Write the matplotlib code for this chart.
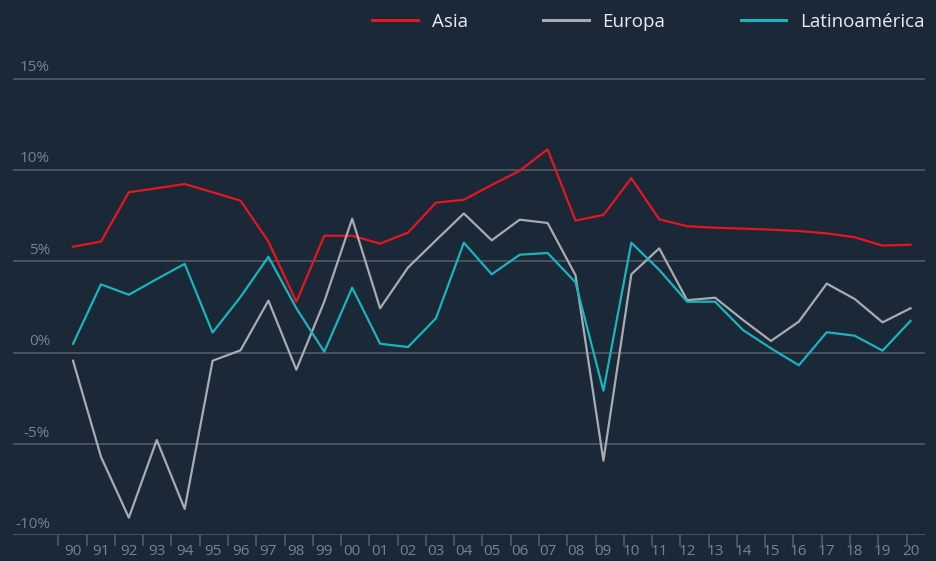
import numpy as np
import matplotlib.pyplot as plt
from matplotlib.transforms import ScaledTranslation

# Años (eje x) y crecimiento anual en %
years = ["90", "91", "92", "93", "94", "95", "96", "97", "98", "99",
         "00", "01", "02", "03", "04", "05", "06", "07", "08", "09",
         "10", "11", "12", "13", "14", "15", "16", "17", "18", "19", "20"]

asia = [5.80, 6.08, 8.78, 9.00, 9.23, 8.78, 8.32, 6.08, 2.78, 6.40,
        6.40, 5.97, 6.57, 8.21, 8.37, 9.18, 9.96, 11.13, 7.23, 7.54,
        9.55, 7.30, 6.92, 6.84, 6.79, 6.73, 6.66, 6.53, 6.32, 5.86, 5.91]

europa = [-0.44, -5.69, -9.03, -4.78, -8.55, -0.44, 0.13, 2.85, -0.93, 2.79,
          7.33, 2.43, 4.66, 6.15, 7.62, 6.15, 7.28, 7.10, 4.24, -5.91,
          4.29, 5.71, 2.87, 3.01, 1.79, 0.64, 1.70, 3.78, 2.94, 1.66, 2.43]

latam = [0.48, 3.74, 3.17, 4.03, 4.86, 1.10, 3.05, 5.25, 2.43, 0.05,
         3.56, 0.49, 0.31, 1.88, 6.02, 4.29, 5.36, 5.46, 3.85, -2.08,
         6.02, 4.53, 2.79, 2.79, 1.24, 0.24, -0.69, 1.12, 0.93, 0.11, 1.74]

yticks = [15, 10, 5, 0, -5, -10]

bg = "#1a2838"
grid_c = "#4e5c68"
tick_c = "#75838f"

plt.rcParams['font.family'] = ['Open Sans', 'DejaVu Sans']

fig = plt.figure(figsize=(9.36, 5.61), dpi=100, facecolor=bg)
ax = fig.add_axes([13/936, (561-535.4)/561, 912/936, (535.4-51.2)/561])
ax.set_facecolor(bg)

x = np.arange(len(years))
ax.plot(x, asia, color="#e5161f", lw=1.6, label="Asia")
ax.plot(x, europa, color="#a8acb1", lw=1.6, label="Europa")
ax.plot(x, latam, color="#1bb4bc", lw=1.6, label="Latinoamérica")

ax.set_xlim(-2.15, 30.52)
ax.set_ylim(-10, 16.5)

# lineas de guia horizontales
for v in yticks:
    ax.axhline(v, color=grid_c, lw=1.2, zorder=0)

for s in ax.spines.values():
    s.set_visible(False)

ax.set_yticks([])
# etiquetas del eje y encima de cada linea
off = ScaledTranslation(0, 11/100, fig.dpi_scale_trans)
for v in yticks:
    ax.text(37/912, v, f"{v}%", transform=ax.get_yaxis_transform() + off,
            ha="right", va="center", fontsize=11, color=tick_c)

ax.set_xticks(x)
ax.set_xticklabels(years)
ax.tick_params(axis="x", which="major", length=0, pad=6, labelsize=11, labelcolor=tick_c)
minor = (58.3 - 73) / 27.92 + np.arange(len(years)) * 28.28 / 27.92
ax.set_xticks(minor, minor=True)
ax.tick_params(axis="x", which="minor", length=8, width=1.2, color=grid_c)

leg = ax.legend(ncol=3, loc="center right", bbox_to_anchor=(925/936, 1 - 22/561),
                bbox_transform=fig.transFigure, frameon=False, fontsize=13.5,
                handlelength=2.45, handletextpad=0.75, columnspacing=4.0,
                borderpad=0, borderaxespad=0)
for t in leg.get_texts():
    t.set_color("#e9ecef")
for l in leg.get_lines():
    l.set_linewidth(2.2)

fig.savefig("out.png", dpi=100, facecolor=bg)
